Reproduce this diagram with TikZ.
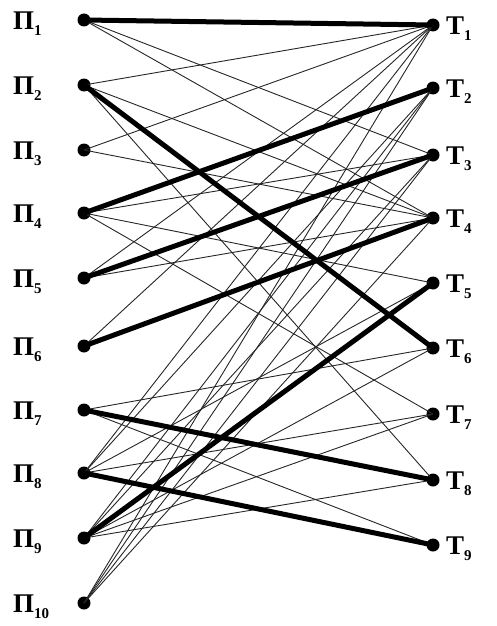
\documentclass[tikz,border=0pt]{standalone}
\usepackage{fontspec}
\setmainfont{Liberation Serif}
\newcommand\labsub[1]{\raisebox{-0.5ex}{\fontsize{15}{15}\selectfont #1}}
\begin{document}
\begin{tikzpicture}[x=1pt,y=-1pt,
  dot/.style={circle,fill=black,inner sep=0pt,minimum size=13pt},
  lab/.style={anchor=west,inner sep=0pt,font=\bfseries\fontsize{27}{27}\selectfont},
  thinedge/.style={line width=0.9pt,black!85},
  thickedge/.style={line width=5pt,black},
]
\useasboundingbox (0,0) rectangle (497,626);
% left nodes
\foreach \i/\y in {1/20,2/85,3/150,4/213,5/278,6/346,7/410,8/473,9/538,10/603}{
  \node[dot] (p\i) at (84,\y) {};
  \node[lab] (lp\i) at (13,\y+4) {П\labsub{\i}};
}
% right nodes
\foreach \i/\y in {1/25,2/88,3/155,4/218,5/283,6/348,7/414,8/480,9/545}{
  \node[dot] (t\i) at (433,\y) {};
  \node[lab] (lt\i) at (446,\y+4) {T\labsub{\i}};
}
% thin edges
\foreach \a/\b in {1/3,1/4,2/1,2/4,2/8,3/1,3/4,4/3,4/5,4/7,5/1,5/4,6/1,7/6,7/9,
                   8/1,8/2,8/5,8/7,9/2,9/3,9/6,9/7,9/8,10/1,10/2,10/3,10/4}
  \draw[thinedge] (p\a.center) -- (t\b.center);
% thick edges (matching)
\foreach \a/\b in {1/1,2/6,4/2,5/3,6/4,7/8,8/9,9/5}
  \draw[thickedge] (p\a.center) -- (t\b.center);
\end{tikzpicture}
\end{document}
